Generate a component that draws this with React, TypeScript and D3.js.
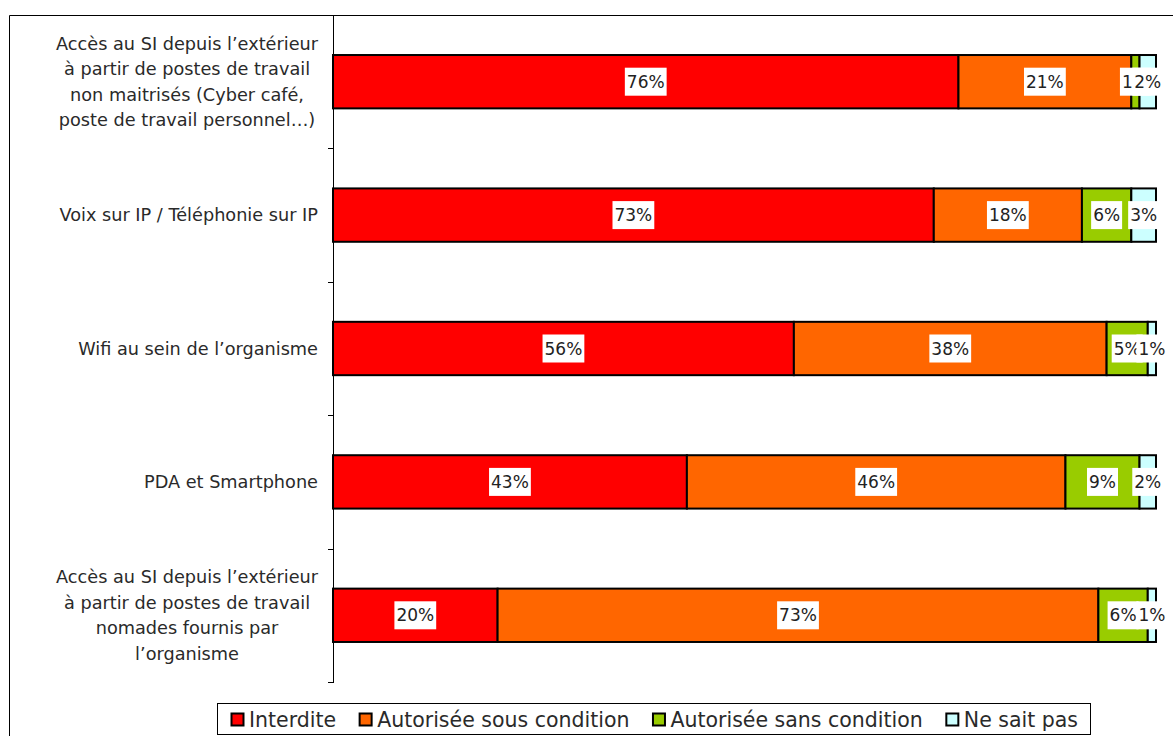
import React, { useEffect, useRef } from 'react';
import * as d3 from 'd3';

const categories = [
  'Accès au SI depuis l\u2019extérieur|à partir de postes de travail|non maitrisés (Cyber café,|poste de travail personnel\u2026)',
  'Voix sur IP / Téléphonie sur IP',
  'Wifi au sein de l\u2019organisme',
  'PDA et Smartphone',
  'Accès au SI depuis l\u2019extérieur|à partir de postes de travail|nomades fournis par|l\u2019organisme',
];

const seriesNames = ['Interdite', 'Autorisée sous condition', 'Autorisée sans condition', 'Ne sait pas'];
const seriesColors = ['#ff0000', '#ff6600', '#99cc00', '#ccffff'];

const interdite = [76, 73, 56, 43, 20];
const sousCondition = [21, 18, 38, 46, 73];
const sansCondition = [1, 6, 5, 9, 6];
const neSaitPas = [2, 3, 1, 2, 1];

const W = 1173;
const H = 736;
const FONT = '"DejaVu Sans", sans-serif';

const App: React.FC = () => {
  const svgRef = useRef<SVGSVGElement>(null);

  useEffect(() => {
    if (!svgRef.current) return;
    const svg = d3.select(svgRef.current);
    svg.selectAll('*').remove();

    const plotTop = 15;
    const plotBottom = 682;
    const plotLeft = 333;
    const plotRight = 1156;

    const x = d3.scaleLinear().domain([0, 100]).range([plotLeft, plotRight]);
    const y = d3.scaleBand<number>()
      .domain(d3.range(categories.length))
      .range([plotTop, plotBottom])
      .paddingInner(0.6)
      .paddingOuter(0.3);

    // outer chart border (right and bottom run off the picture)
    svg.append('path')
      .attr('d', `M9.5,${H} L9.5,15.5 L${W},15.5`)
      .attr('fill', 'none')
      .attr('stroke', '#000')
      .attr('stroke-width', 1);

    const data = categories.map((c, i) => [interdite[i], sousCondition[i], sansCondition[i], neSaitPas[i]]);
    const stacked = d3.stack<number[]>()
      .keys(['0', '1', '2', '3'])
      .value((d, k) => d[+k])(data);

    const g = svg.append('g');

    stacked.forEach((layer, si) => {
      g.selectAll(null)
        .data(layer)
        .enter()
        .append('rect')
        .attr('x', d => x(d[0]))
        .attr('y', (d, i) => y(i)!)
        .attr('width', d => x(d[1]) - x(d[0]))
        .attr('height', y.bandwidth())
        .attr('fill', seriesColors[si])
        .attr('stroke', '#000')
        .attr('stroke-width', 2);
    });

    // value labels with white boxes, drawn in order so later ones cover earlier
    const labels = svg.append('g');
    data.forEach((row, ri) => {
      stacked.forEach((layer, si) => {
        const d = layer[ri];
        const cx = (x(d[0]) + x(d[1])) / 2;
        const cy = y(ri)! + y.bandwidth() / 2;
        const lg = labels.append('g');
        const bg = lg.append('rect').attr('fill', '#fff');
        const t = lg.append('text')
          .attr('x', cx)
          .attr('y', cy)
          .attr('dy', '0.36em')
          .attr('text-anchor', 'middle')
          .style('font-family', FONT)
          .style('font-size', '17px')
          .style('fill', '#222')
          .text(`${row[si]}%`);
        const w = (t.node() as SVGTextElement).getComputedTextLength();
        bg.attr('x', cx - w / 2 - 2)
          .attr('y', cy - 14)
          .attr('width', w + 4)
          .attr('height', 28);
      });
    });

    // axis
    svg.append('line')
      .attr('x1', plotLeft + 0.5).attr('x2', plotLeft + 0.5)
      .attr('y1', plotTop).attr('y2', plotBottom)
      .attr('stroke', '#000');
    const step = y.step();
    d3.range(categories.length + 1).forEach(k => {
      const ty = Math.round(plotTop + k * step) + 0.5;
      svg.append('line')
        .attr('x1', plotLeft - 5).attr('x2', plotLeft + 1)
        .attr('y1', ty).attr('y2', ty)
        .attr('stroke', '#000');
    });

    // category labels
    const lineH = 25.5;
    categories.forEach((c, i) => {
      const lines = c.split('|');
      const cy = y(i)! + y.bandwidth() / 2;
      const t = svg.append('text')
        .style('font-family', FONT)
        .style('font-size', '17.7px')
        .style('fill', '#2a2a2a')
        .attr('text-anchor', 'middle');
      const spans = lines.map((l, li) => t.append('tspan')
        .attr('y', cy + (li - (lines.length - 1) / 2) * lineH)
        .attr('dy', '0.36em')
        .text(l));
      const maxW = d3.max(spans, s => (s.node() as SVGTSpanElement).getComputedTextLength()) || 0;
      const centerX = 318 - maxW / 2;
      spans.forEach(s => s.attr('x', centerX));
    });

    // legend
    const lg = svg.append('g');
    lg.append('rect')
      .attr('x', 217.5).attr('y', 703.5)
      .attr('width', 873).attr('height', 31)
      .attr('fill', '#fff').attr('stroke', '#000');
    let lx = 231;
    seriesNames.forEach((name, i) => {
      lg.append('rect')
        .attr('x', lx + 0.5).attr('y', 713.5)
        .attr('width', 12).attr('height', 12)
        .attr('fill', seriesColors[i])
        .attr('stroke', '#000')
        .attr('stroke-width', 2);
      const t = lg.append('text')
        .attr('x', lx + 18)
        .attr('y', 719.5)
        .attr('dy', '0.36em')
        .style('font-family', FONT)
        .style('font-size', '20.5px')
        .style('fill', '#2a2a2a')
        .text(name);
      const w = (t.node() as SVGTextElement).getComputedTextLength();
      lx += 18 + w + 23;
    });
  }, []);

  return (
    <svg
      ref={svgRef}
      width={W}
      height={H}
      style={{ position: 'absolute', left: 0, top: 0, background: '#fff' }}
    />
  );
};

export default App;
